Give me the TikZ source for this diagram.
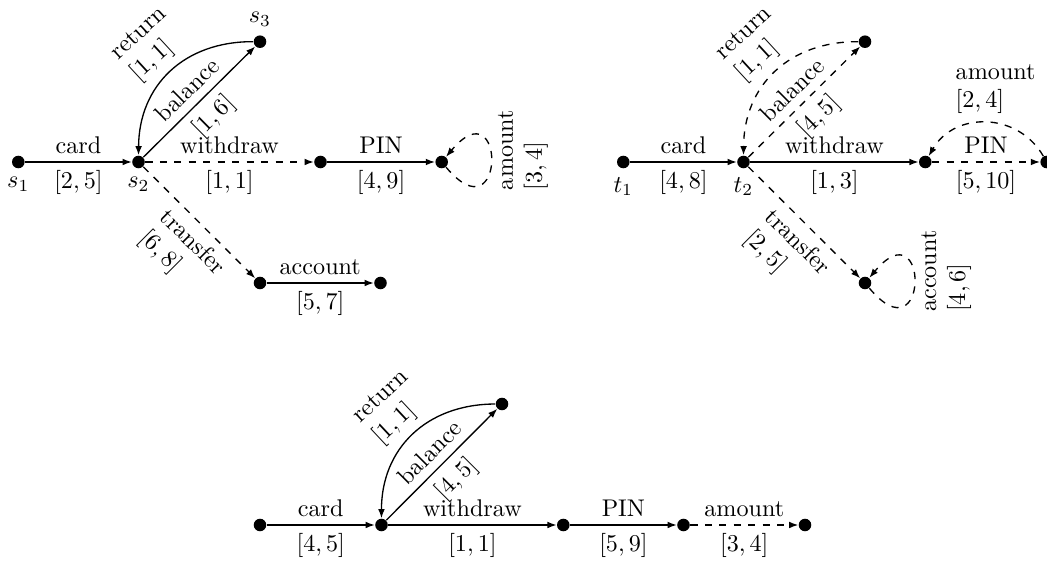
\documentclass[tikz,border=0pt]{standalone}
\usetikzlibrary{arrows.meta}
\begin{document}
\begin{tikzpicture}[x=0.4141pt,y=0.4141pt,
  st/.style={circle,fill,inner sep=0pt,minimum size=5.2pt},
  tr/.style={line width=0.55pt,-{Latex[length=3.8pt,width=2.8pt]}},
  dtr/.style={tr,dashed},
  lab/.style={align=left},
  ret/.style={bend right=45,looseness=1.1},
  lp/.style={out=-50,in=50,min distance=38.7pt},
  lplab/.style={pos=0.6,rotate=90,anchor=north,align=left}]
\useasboundingbox (0,0) rectangle (1047,565);
% ---------- diagram 1 ----------
\node[st,label=below:$s_1$] (s1) at (18.3,403) {};
\node[st,label=below:$s_2$] (s2) at (138.5,403) {};
\node[st,label=above:$s_3$] (s3) at (260,523.3) {};
\node[st] (p1) at (320.5,403) {};
\node[st] (p2) at (441.7,403) {};
\node[st] (q1) at (260,282) {};
\node[st] (q2) at (380.5,282) {};
\draw[tr] (s1) -- node[midway,above]{card} node[midway,below]{$[2,5]$} (s2);
\draw[dtr] (s2) -- node[midway,above]{withdraw} node[midway,below]{$[1,1]$} (p1);
\draw[tr] (p1) -- node[midway,above]{PIN} node[midway,below]{$[4,9]$} (p2);
\draw[dtr] (p2) to[lp] node[lplab]{amount\\$[3,4]$} (p2);
\draw[tr] (s2) -- node[midway,above,sloped]{balance} node[midway,below,sloped]{$[1,6]$} (s3);
\draw[tr] (s3) to[ret] node[pos=0.48,above,sloped,lab]{return\\$[1,1]$} (s2);
\draw[dtr] (s2) -- node[pos=0.56,below,sloped,lab]{transfer\\$[6,8]$} (q1);
\draw[tr] (q1) -- node[midway,above]{account} node[midway,below]{$[5,7]$} (q2);
% ---------- diagram 2 ----------
\node[st,label=below:$t_1$] (t1) at (623.3,403) {};
\node[st,label=below:$t_2$] (t2) at (743.5,403) {};
\node[st] (u3) at (865,523.3) {};
\node[st] (u4) at (925.3,403) {};
\node[st] (u5) at (1046.7,403) {};
\node[st] (v1) at (865,282) {};
\draw[tr] (t1) -- node[midway,above]{card} node[midway,below]{$[4,8]$} (t2);
\draw[tr] (t2) -- node[midway,above]{withdraw} node[midway,below]{$[1,3]$} (u4);
\draw[dtr] (u4) -- node[midway,above]{PIN} node[midway,below]{$[5,10]$} (u5);
\draw[dtr] (u5) to[bend right=60,looseness=1.15] node[midway,above,lab,xshift=4pt]{amount\\$[2,4]$} (u4);
\draw[dtr] (t2) -- node[midway,above,sloped]{balance} node[midway,below,sloped]{$[4,5]$} (u3);
\draw[dtr] (u3) to[ret] node[pos=0.48,above,sloped,lab]{return\\$[1,1]$} (t2);
\draw[dtr] (t2) -- node[pos=0.56,below,sloped,lab]{transfer\\$[2,5]$} (v1);
\draw[dtr] (v1) to[lp] node[lplab]{account\\$[4,6]$} (v1);
% ---------- diagram 3 ----------
\node[st] (a1) at (260,40) {};
\node[st] (a2) at (381.5,40) {};
\node[st] (a6) at (502,161) {};
\node[st] (a3) at (563.3,40) {};
\node[st] (a4) at (683.5,40) {};
\node[st] (a5) at (805,40) {};
\draw[tr] (a1) -- node[midway,above]{card} node[midway,below]{$[4,5]$} (a2);
\draw[tr] (a2) -- node[midway,above]{withdraw} node[midway,below]{$[1,1]$} (a3);
\draw[tr] (a3) -- node[midway,above]{PIN} node[midway,below]{$[5,9]$} (a4);
\draw[dtr] (a4) -- node[midway,above]{amount} node[midway,below]{$[3,4]$} (a5);
\draw[tr] (a2) -- node[midway,above,sloped]{balance} node[midway,below,sloped]{$[4,5]$} (a6);
\draw[tr] (a6) to[ret] node[pos=0.48,above,sloped,lab]{return\\$[1,1]$} (a2);
\end{tikzpicture}
\end{document}
